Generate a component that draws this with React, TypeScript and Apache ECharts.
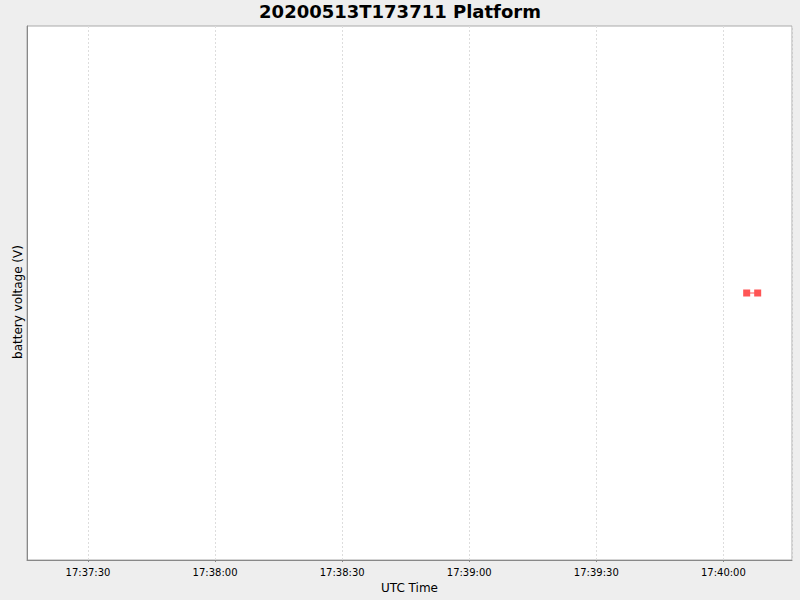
import * as echarts from 'echarts';
import { useEffect, useRef } from 'react';

const times = ['2020-05-13T17:40:05.5Z', '2020-05-13T17:40:08.1Z'];
const voltages = [12.6, 12.6];
const rangeStart = '2020-05-13T17:37:15.6Z';
const rangeEnd = '2020-05-13T17:40:16.2Z';

const pad = (n: number) => String(n).padStart(2, '0');

export default function App() {
  const chartRef = useRef<HTMLDivElement>(null);

  useEffect(() => {
    if (!chartRef.current) return;
    const chart = echarts.init(chartRef.current, null, { renderer: 'svg' });

    const option = {
      animation: false,
      backgroundColor: '#eeeeee',
      textStyle: { fontFamily: 'DejaVu Sans' },
      title: {
        text: '20200513T173711 Platform',
        left: 'center',
        top: -3,
        textStyle: { fontSize: 18, fontWeight: 'bold', color: '#000', fontFamily: 'DejaVu Sans' },
      },
      grid: {
        left: 27,
        right: 8,
        top: 26,
        bottom: 40,
        show: true,
        backgroundColor: '#ffffff',
        borderColor: '#aaaaaa',
        borderWidth: 1,
      },
      xAxis: {
        type: 'time',
        min: new Date(rangeStart).getTime(),
        max: new Date(rangeEnd).getTime(),
        splitNumber: 6,
        name: 'UTC Time',
        nameLocation: 'middle',
        nameGap: 22,
        nameTextStyle: { fontSize: 12, color: '#000' },
        axisLine: { show: true, lineStyle: { color: '#888888' } },
        axisTick: { show: true, length: 2, lineStyle: { color: '#888888' } },
        axisLabel: {
          fontSize: 10,
          color: '#000',
          margin: 7,
          showMinLabel: false,
          showMaxLabel: false,
          formatter: (v: number) => {
            const d = new Date(v);
            return `${pad(d.getUTCHours())}:${pad(d.getUTCMinutes())}:${pad(d.getUTCSeconds())}`;
          },
        },
        splitLine: { show: true, lineStyle: { color: '#dddddd', type: [2, 2] } },
      },
      yAxis: {
        type: 'value',
        min: 12.1,
        max: 13.1,
        name: 'battery voltage (V)',
        nameLocation: 'middle',
        nameGap: 3,
        nameTextStyle: { fontSize: 12, color: '#000', padding: [0, 18, 0, 0] },
        axisLine: { show: true, lineStyle: { color: '#888888' } },
        axisTick: { show: false },
        axisLabel: { show: false },
        splitLine: { show: false },
      },
      series: [
        {
          type: 'line',
          data: times.map((t, i) => [new Date(t).getTime(), voltages[i]]),
          symbol: 'rect',
          symbolSize: 7,
          showSymbol: true,
          lineStyle: { color: '#ff5555', width: 1 },
          itemStyle: { color: '#ff5555' },
        },
      ],
    };

    chart.setOption(option);
    return () => chart.dispose();
  }, []);

  return (
    <div style={{ position: 'absolute', left: 0, top: 0, width: 800, height: 600 }}>
      <div ref={chartRef} style={{ width: 800, height: 600 }} />
    </div>
  );
}
